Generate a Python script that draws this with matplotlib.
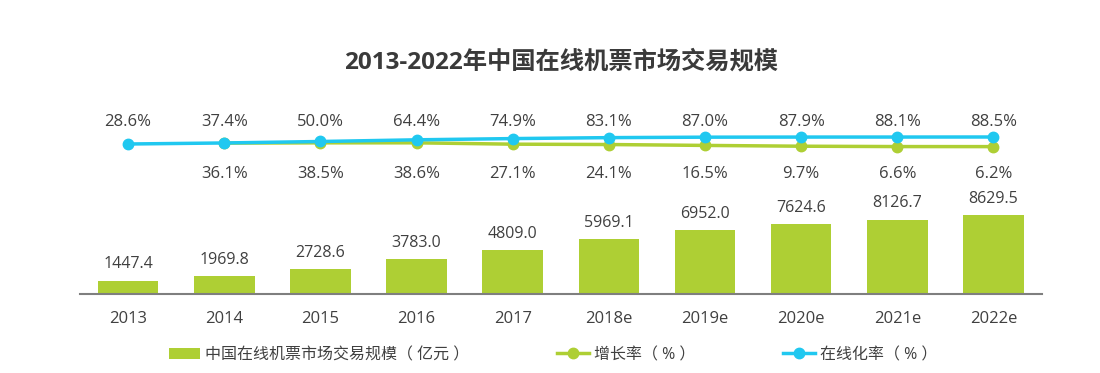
import matplotlib
matplotlib.use('Agg')
import matplotlib.pyplot as plt
import matplotlib.transforms as mtransforms
import numpy as np

plt.rcParams['font.family'] = ['Open Sans', 'Noto Sans CJK SC', 'DejaVu Sans']

years = ['2013', '2014', '2015', '2016', '2017', '2018e', '2019e', '2020e', '2021e', '2022e']
scale = [1447.4, 1969.8, 2728.6, 3783.0, 4809.0, 5969.1, 6952.0, 7624.6, 8126.7, 8629.5]
growth = [np.nan, 36.1, 38.5, 38.6, 27.1, 24.1, 16.5, 9.7, 6.6, 6.2]
online = [28.6, 37.4, 50.0, 64.4, 74.9, 83.1, 87.0, 87.9, 88.1, 88.5]

green = '#AECF34'
cyan = '#20C8F0'
txt = '#404040'

fig = plt.figure(figsize=(11, 3.73), dpi=100)
ax = fig.add_axes([80 / 1100, 1 - 294 / 373, 961.5 / 1100, 194 / 373])
x = np.arange(len(years))

bars = ax.bar(x, scale, width=0.63, color=green, label='中国在线机票市场交易规模（ 亿元 ）', zorder=2)
for xi, v in zip(x, scale):
    ax.annotate(f'{v:.1f}', (xi, v), xytext=(0, 6), textcoords='offset points',
                ha='center', va='bottom', fontsize=11.5, color=txt)

ax.set_xlim(-0.5, len(years) - 0.5)
ax.set_ylim(0, 21192)
ax.set_xticks(x)
ax.set_xticklabels(years, fontsize=12, color=txt)
ax.tick_params(axis='x', length=0, pad=12)
ax.set_yticks([])
for s in ['top', 'right', 'left']:
    ax.spines[s].set_visible(False)
ax.spines['bottom'].set_color('#7f7f7f')
ax.spines['bottom'].set_linewidth(1.5)

ax2 = ax.twinx()
ax2.set_ylim(-1254.6, 405)
ax2.set_yticks([])
for s in ax2.spines.values():
    s.set_visible(False)
l1, = ax2.plot(x, growth, '-o', color=green, lw=2.5, ms=7.5, label='增长率（ % ）', zorder=3)
l2, = ax2.plot(x, online, '-o', color=cyan, lw=2.5, ms=7.5, label='在线化率（ % ）', zorder=4)

tr = mtransforms.blended_transform_factory(ax2.transData, ax2.transAxes)
for xi, v in zip(x, online):
    ax2.text(xi, 0.885, f'{v:.1f}%', transform=tr, ha='center', va='center', fontsize=12, color=txt)
for xi, v in zip(x, growth):
    if not np.isnan(v):
        ax2.text(xi, 0.62, f'{v:.1f}%', transform=tr, ha='center', va='center', fontsize=12, color=txt)

fig.text(561 / 1100, 1 - 62 / 373, '2013-2022年中国在线机票市场交易规模', ha='center', va='center',
         fontsize=17.5, fontweight='bold', color='#3a3a3a')

fig.legend(handles=[bars, l1, l2], loc='center', bbox_to_anchor=(553 / 1100, 1 - 355 / 373),
           ncol=3, frameon=False, fontsize=11.5, handlelength=2.0, columnspacing=5.5,
           handletextpad=0.3, labelcolor=txt)

fig.savefig('out.png', dpi=100)
